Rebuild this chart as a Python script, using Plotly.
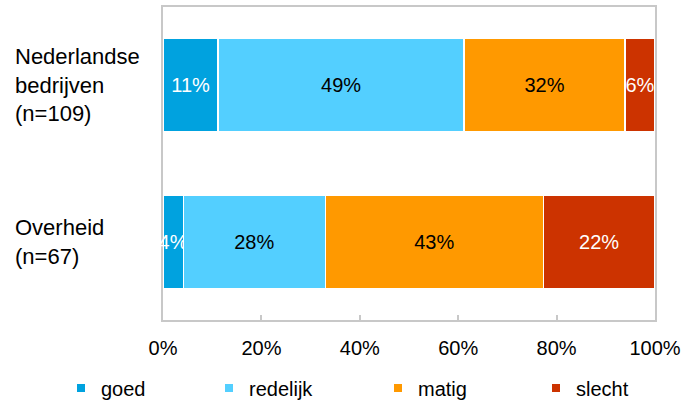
import plotly.graph_objects as go

categories = ["Nederlandse<br>bedrijven<br>(n=109)", "Overheid<br>(n=67)"]
series_names = ["goed", "redelijk", "matig", "slecht"]
values = {
    "goed": [11, 4],
    "redelijk": [49, 28],
    "matig": [32, 43],
    "slecht": [6, 22],
}
colors = {"goed": "#00A2DF", "redelijk": "#53CFFF", "matig": "#FF9900", "slecht": "#CC3300"}
text_colors = {"goed": "white", "redelijk": "black", "matig": "black", "slecht": "white"}
x_ticks = [0, 20, 40, 60, 80, 100]
x_tick_labels = [f"{v}%" for v in x_ticks]
legend_x = [61, 209, 378, 536]

FONT = "Arial, Liberation Sans, sans-serif"
W, H = 684, 401
L, R, T, B = 163, 29, 7, 81

fig = go.Figure()
for i, name in enumerate(series_names):
    fig.add_trace(go.Bar(
        name=name, y=categories, x=values[name], orientation="h",
        marker=dict(color=colors[name], line=dict(color="white", width=1.5)),
        text=[f"{v}%" for v in values[name]], texttemplate="%{text}",
        textposition="inside", insidetextanchor="middle", textangle=0,
        constraintext="none", cliponaxis=False,
        textfont=dict(family=FONT, size=20, color=text_colors[name]),
        showlegend=False, hoverinfo="skip",
    ))
    lg = "legend" if i == 0 else f"legend{i+1}"
    fig.add_trace(go.Scatter(
        x=[None], y=[None], mode="markers", name=name,
        marker=dict(symbol="square", size=8, color=colors[name]),
        legend=lg, showlegend=True,
    ))

legend_common = dict(orientation="h", xref="container", yref="container",
                      xanchor="left", yanchor="middle", y=1 - 388 / H,
                      font=dict(family=FONT, size=20, color="black"),
                      bgcolor="rgba(0,0,0,0)", itemwidth=30)
layout_legends = {}
for i, lx in enumerate(legend_x):
    key = "legend" if i == 0 else f"legend{i+1}"
    layout_legends[key] = dict(legend_common, x=lx / W)

pw = W - L - R
for cat in categories:
    fig.add_annotation(x=(13 - L) / pw, xref="paper", y=cat, yref="y",
                       text=cat, showarrow=False, xanchor="left", yanchor="middle",
                       align="left", font=dict(family=FONT, size=22, color="black"))

fig.update_layout(
    width=W, height=H, margin=dict(l=L, r=R, t=T, b=B, autoexpand=False),
    barmode="stack", barnorm="percent", bargap=0.4,
    plot_bgcolor="white", paper_bgcolor="white",
    font=dict(family=FONT, size=20, color="black"),
    xaxis=dict(range=[0, 100], tickvals=x_ticks, ticktext=x_tick_labels, showgrid=False,
               zeroline=False, showline=True, mirror=True, linecolor="#C8C8C8",
               linewidth=2, ticks="inside", ticklen=5, tickwidth=2, tickcolor="#C8C8C8",
               layer="below traces", ticklabelstandoff=9, automargin=False,
               tickfont=dict(family=FONT, size=20, color="black")),
    yaxis=dict(autorange="reversed", showticklabels=False, showgrid=False,
               zeroline=False, showline=True, mirror=True, linecolor="#C8C8C8",
               linewidth=2, layer="below traces", fixedrange=True, automargin=False),
    **layout_legends,
)

fig.write_html("out.html")
